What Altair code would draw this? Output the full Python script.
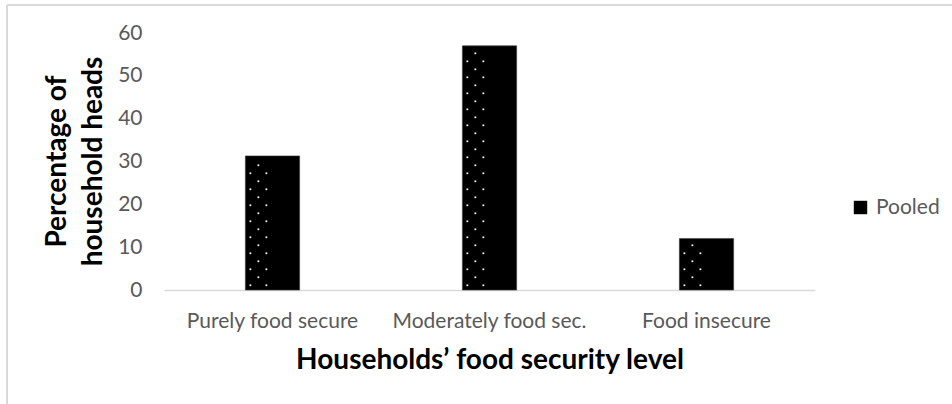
import altair as alt
import pandas as pd

# ---- data ----
categories = ["Purely food secure", "Moderately food sec.", "Food insecure"]
values = [31.3, 57.0, 12.0]
series_name = "Pooled"

df = pd.DataFrame({"category": categories, "value": values, "series": [series_name] * len(categories)})

# ---- dotted texture inside the bars (built from the bar values) ----
PATTERN_TOP = 55.26      # first dot row, data units
PATTERN_STEP = 3.735     # vertical period of the texture, data units
rows = []
for cat, val in zip(categories, values):
    for parity, start in (("A", PATTERN_TOP), ("B", PATTERN_TOP - PATTERN_STEP / 2)):
        y = start
        while y > 0.4:
            if y <= val - 0.6:
                rows.append({"category": cat, "y": y, "row": parity})
            y -= PATTERN_STEP
dots = pd.DataFrame(rows)

W, H = 651, 257
PAD_L, PAD_T = 164, 33
FONT = "Lato"

xscale = alt.Scale(domain=categories, paddingInner=0.75, paddingOuter=0.375)
yscale = alt.Scale(domain=[0, 60])

bars = alt.Chart(df).mark_bar(stroke="#3a3a3a", strokeWidth=0.6).encode(
    x=alt.X(
        "category:N",
        sort=categories,
        scale=xscale,
        axis=alt.Axis(
            title="Households’ food security level",
            labelAngle=0,
            labelFont=FONT,
            labelFontSize=21,
            labelColor="#595959",
            labelBaseline="alphabetic",
            labelPadding=37,
            labelLimit=400,
            ticks=False,
            domainColor="#d9d9d9",
            domainWidth=1.3,
            titleFont=FONT,
            titleFontSize=28,
            titleFontWeight="bold",
            titleColor="#000000",
            titleX=325.5,
            titleY=78,
            titleAlign="center",
            titleBaseline="alphabetic",
        ),
    ),
    y=alt.Y(
        "value:Q",
        scale=yscale,
        axis=alt.Axis(
            title=["Percentage of", "household heads"],
            values=[0, 10, 20, 30, 40, 50, 60],
            labelFont=FONT,
            labelFontSize=21,
            labelColor="#595959",
            labelPadding=22,
            ticks=False,
            domain=False,
            grid=False,
            titleFont=FONT,
            titleFontSize=28,
            titleFontWeight="bold",
            titleColor="#000000",
            titleLineHeight=36,
            titleX=-107,
            titleY=128,
            titleAlign="center",
            titleBaseline="middle",
            titleAngle=-90,
        ),
    ),
    color=alt.Color(
        "series:N",
        scale=alt.Scale(domain=[series_name], range=["#000000"]),
        legend=alt.Legend(
            title=None,
            orient="none",
            legendX=686,
            legendY=164,
            symbolType="square",
            symbolSize=180,
            symbolStrokeWidth=0,
            labelFont=FONT,
            labelFontSize=21,
            labelColor="#595959",
            labelOffset=5,
            padding=0,
        ),
    ),
)

dot_layers = []
for parity, offsets in (("A", [-19, -3, 13]), ("B", [-11, 5, 21])):
    for d in offsets:
        dot_layers.append(
            alt.Chart(dots)
            .transform_filter(alt.datum.row == parity)
            .mark_square(size=3, color="white", opacity=1)
            .encode(x=alt.X("category:N", sort=categories, scale=xscale),
                    xOffset=alt.value(d),
                    y=alt.Y("y:Q", scale=yscale))
        )

border_top = alt.Chart(df).mark_rule(color="#d9d9d9", strokeWidth=1.5).encode(
    x=alt.value(7 - PAD_L), x2=alt.value(952 - PAD_L), y=alt.value(5 - PAD_T)
)
border_left = alt.Chart(df).mark_rule(color="#d9d9d9", strokeWidth=1.5).encode(
    x=alt.value(7 - PAD_L), y=alt.value(5 - PAD_T), y2=alt.value(404 - PAD_T)
)

chart = alt.layer(border_top, border_left, bars, *dot_layers).properties(
    width=W,
    height=H,
    autosize=alt.AutoSizeParams(type="none"),
    padding={"left": PAD_L, "top": PAD_T, "right": 952 - PAD_L - W, "bottom": 404 - PAD_T - H},
    background="white",
).configure_view(stroke=None)

chart.save("out.html", embed_options={"renderer": "svg", "actions": False})
